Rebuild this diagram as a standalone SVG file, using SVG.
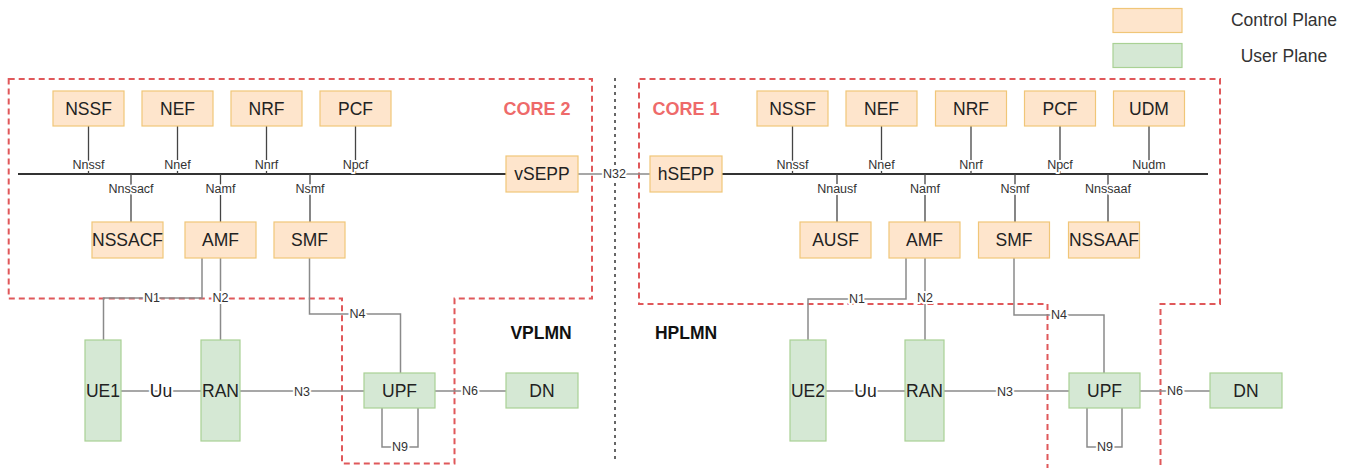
<svg xmlns="http://www.w3.org/2000/svg" width="1357" height="468" viewBox="0 0 1357 468">
<style>
text{font-family:"Liberation Sans",Arial,sans-serif;text-anchor:middle;dominant-baseline:central}
.cp{fill:#fee5cc;stroke:#f0c678;stroke-width:1.2}
.up{fill:#d5e8d4;stroke:#a9d194;stroke-width:1.2}
.nt{font-size:17.5px;fill:#222}
.lbl{font-size:12.5px;fill:#333;paint-order:stroke;stroke:#fff;stroke-width:4px;stroke-linejoin:round}
.uu{font-size:17.5px;fill:#222;paint-order:stroke;stroke:#fff;stroke-width:4px;stroke-linejoin:round}
.bus{stroke:#333;stroke-width:2;fill:none}
.stub{stroke:#444;stroke-width:1.3;fill:none}
.ln{stroke:#8a8a8a;stroke-width:1.5;fill:none}
.zone{stroke:#e0585a;stroke-width:2;stroke-dasharray:6 4;fill:none}
.core{font-size:18px;font-weight:bold;fill:#ee6a6a}
.plmn{font-size:17.5px;font-weight:bold;fill:#111}
.leg{font-size:17.5px;fill:#333}
</style>

<g id="legend">
<rect class="cp" x="1113" y="8.5" width="69" height="24"/>
<text class="leg" x="1284" y="20">Control Plane</text>
<rect class="up" x="1113" y="43.5" width="69" height="24"/>
<text class="leg" x="1284" y="56">User Plane</text>
</g>

<g id="zones">
<path class="zone" d="M8.7,79 H592 V298.5 H454.5 V463.5 H342 V298.5 H8.7 Z"/>
<path class="zone" d="M1047.5,480 V304 H639 V79 H1220 V304 H1160.5 V480"/>
<line x1="615" y1="78" x2="615" y2="460" stroke="#666" stroke-width="2" stroke-dasharray="3 4"/>
<text class="core" x="537" y="109">CORE 2</text>
<text class="core" x="686" y="109">CORE 1</text>
<text class="plmn" x="541" y="333">VPLMN</text>
<text class="plmn" x="686" y="333">HPLMN</text>
</g>

<g id="connectors">
<line class="bus" x1="18" y1="174" x2="506" y2="174"/>
<line class="stub" x1="88.5" y1="126" x2="88.5" y2="174"/>
<line class="stub" x1="177.5" y1="126" x2="177.5" y2="174"/>
<line class="stub" x1="266.5" y1="126" x2="266.5" y2="174"/>
<line class="stub" x1="355.5" y1="126" x2="355.5" y2="174"/>
<line class="stub" x1="131" y1="174" x2="131" y2="222"/>
<line class="stub" x1="220.5" y1="174" x2="220.5" y2="222"/>
<line class="stub" x1="310" y1="174" x2="310" y2="222"/>
<line class="ln" x1="578" y1="174" x2="650" y2="174"/>
<line class="bus" x1="722" y1="174" x2="1208" y2="174"/>
<line class="stub" x1="792.5" y1="126" x2="792.5" y2="174"/>
<line class="stub" x1="881.5" y1="126" x2="881.5" y2="174"/>
<line class="stub" x1="971" y1="126" x2="971" y2="174"/>
<line class="stub" x1="1060" y1="126" x2="1060" y2="174"/>
<line class="stub" x1="1149" y1="126" x2="1149" y2="174"/>
<line class="stub" x1="837" y1="174" x2="837" y2="222"/>
<line class="stub" x1="925" y1="174" x2="925" y2="222"/>
<line class="stub" x1="1015" y1="174" x2="1015" y2="222"/>
<line class="stub" x1="1108" y1="174" x2="1108" y2="222"/>
<path class="ln" d="M202,258 V298 H103.5 V340"/>
<line class="ln" x1="220.5" y1="258" x2="220.5" y2="340"/>
<path class="ln" d="M309.5,258 V314 H400.5 V373"/>
<line class="ln" x1="121" y1="391" x2="201" y2="391"/>
<line class="ln" x1="240" y1="391" x2="364" y2="391"/>
<line class="ln" x1="435" y1="391" x2="506" y2="391"/>
<path class="ln" d="M382,408 V447 H418 V408"/>
<path class="ln" d="M906,258 V299 H808 V340"/>
<line class="ln" x1="925" y1="258" x2="925" y2="340"/>
<path class="ln" d="M1014,258 V315 H1104 V373"/>
<line class="ln" x1="826" y1="391" x2="905" y2="391"/>
<line class="ln" x1="944" y1="391" x2="1069" y2="391"/>
<line class="ln" x1="1140" y1="391" x2="1210" y2="391"/>
<path class="ln" d="M1087,408 V447 H1122 V408"/>
<text class="lbl" x="88.5" y="165">Nnssf</text>
<text class="lbl" x="177.5" y="165">Nnef</text>
<text class="lbl" x="266.5" y="165">Nnrf</text>
<text class="lbl" x="355.5" y="165">Npcf</text>
<text class="lbl" x="131" y="189">Nnssacf</text>
<text class="lbl" x="220.5" y="189">Namf</text>
<text class="lbl" x="310" y="189">Nsmf</text>
<text class="lbl" x="614.5" y="174">N32</text>
<text class="lbl" x="792.5" y="165">Nnssf</text>
<text class="lbl" x="881.5" y="165">Nnef</text>
<text class="lbl" x="971" y="165">Nnrf</text>
<text class="lbl" x="1060" y="165">Npcf</text>
<text class="lbl" x="1149" y="165">Nudm</text>
<text class="lbl" x="837" y="189">Nnausf</text>
<text class="lbl" x="925" y="189">Namf</text>
<text class="lbl" x="1015" y="189">Nsmf</text>
<text class="lbl" x="1108" y="189">Nnssaaf</text>
<text class="lbl" x="152" y="298">N1</text>
<text class="lbl" x="220.5" y="298">N2</text>
<text class="lbl" x="357.5" y="314">N4</text>
<text class="lbl" x="302" y="392">N3</text>
<text class="lbl" x="470" y="391">N6</text>
<text class="lbl" x="400" y="447">N9</text>
<text class="lbl" x="857" y="299">N1</text>
<text class="lbl" x="925" y="298">N2</text>
<text class="lbl" x="1059" y="315">N4</text>
<text class="lbl" x="1005" y="392">N3</text>
<text class="lbl" x="1175" y="391">N6</text>
<text class="lbl" x="1105" y="447">N9</text>
<text class="uu" x="161" y="391">Uu</text>
<text class="uu" x="865.5" y="391">Uu</text>
</g>

<g id="core2-nodes">
<g id="nssf2"><rect class="cp" x="53" y="91" width="71" height="35"/><text class="nt" x="88.5" y="109">NSSF</text></g>
<g id="nef2"><rect class="cp" x="142" y="91" width="71" height="35"/><text class="nt" x="177.5" y="109">NEF</text></g>
<g id="nrf2"><rect class="cp" x="231" y="91" width="71" height="35"/><text class="nt" x="266.5" y="109">NRF</text></g>
<g id="pcf2"><rect class="cp" x="320" y="91" width="71" height="35"/><text class="nt" x="355.5" y="109">PCF</text></g>
<g id="vsepp"><rect class="cp" x="506" y="156" width="72" height="36"/><text class="nt" x="542" y="174">vSEPP</text></g>
<g id="nssacf"><rect class="cp" x="92" y="222" width="71" height="36"/><text class="nt" x="127.5" y="240">NSSACF</text></g>
<g id="amf2"><rect class="cp" x="185" y="222" width="71" height="36"/><text class="nt" x="220.5" y="240">AMF</text></g>
<g id="smf2"><rect class="cp" x="274" y="222" width="71" height="36"/><text class="nt" x="309.5" y="240">SMF</text></g>
</g>

<g id="vplmn-up">
<g id="ue1"><rect class="up" x="85" y="340" width="36" height="101"/><text class="nt" x="103" y="391">UE1</text></g>
<g id="ran1"><rect class="up" x="201" y="340" width="39" height="101"/><text class="nt" x="220.5" y="391">RAN</text></g>
<g id="upf1"><rect class="up" x="364" y="373" width="71" height="35"/><text class="nt" x="399.5" y="391">UPF</text></g>
<g id="dn1"><rect class="up" x="506" y="373" width="72" height="35"/><text class="nt" x="542" y="391">DN</text></g>
</g>

<g id="core1-nodes">
<g id="hsepp"><rect class="cp" x="650" y="156" width="72" height="36"/><text class="nt" x="686" y="174">hSEPP</text></g>
<g id="nssf1"><rect class="cp" x="757" y="91" width="71" height="35"/><text class="nt" x="792.5" y="109">NSSF</text></g>
<g id="nef1"><rect class="cp" x="846" y="91" width="71" height="35"/><text class="nt" x="881.5" y="109">NEF</text></g>
<g id="nrf1"><rect class="cp" x="935.5" y="91" width="71" height="35"/><text class="nt" x="971" y="109">NRF</text></g>
<g id="pcf1"><rect class="cp" x="1024.5" y="91" width="71" height="35"/><text class="nt" x="1060" y="109">PCF</text></g>
<g id="udm"><rect class="cp" x="1113.5" y="91" width="71" height="35"/><text class="nt" x="1149" y="109">UDM</text></g>
<g id="ausf"><rect class="cp" x="800" y="222" width="71" height="36"/><text class="nt" x="835.5" y="240">AUSF</text></g>
<g id="amf1"><rect class="cp" x="889" y="222" width="71" height="36"/><text class="nt" x="924.5" y="240">AMF</text></g>
<g id="smf1"><rect class="cp" x="978.5" y="222" width="71" height="36"/><text class="nt" x="1014" y="240">SMF</text></g>
<g id="nssaaf"><rect class="cp" x="1068.5" y="222" width="71" height="36"/><text class="nt" x="1104" y="240">NSSAAF</text></g>
</g>

<g id="hplmn-up">
<g id="ue2"><rect class="up" x="790" y="340" width="36" height="101"/><text class="nt" x="808" y="391">UE2</text></g>
<g id="ran2"><rect class="up" x="905" y="340" width="39" height="101"/><text class="nt" x="924.5" y="391">RAN</text></g>
<g id="upf2"><rect class="up" x="1069" y="373" width="71" height="35"/><text class="nt" x="1104.5" y="391">UPF</text></g>
<g id="dn2"><rect class="up" x="1210" y="373" width="72" height="35"/><text class="nt" x="1246" y="391">DN</text></g>
</g>
</svg>
